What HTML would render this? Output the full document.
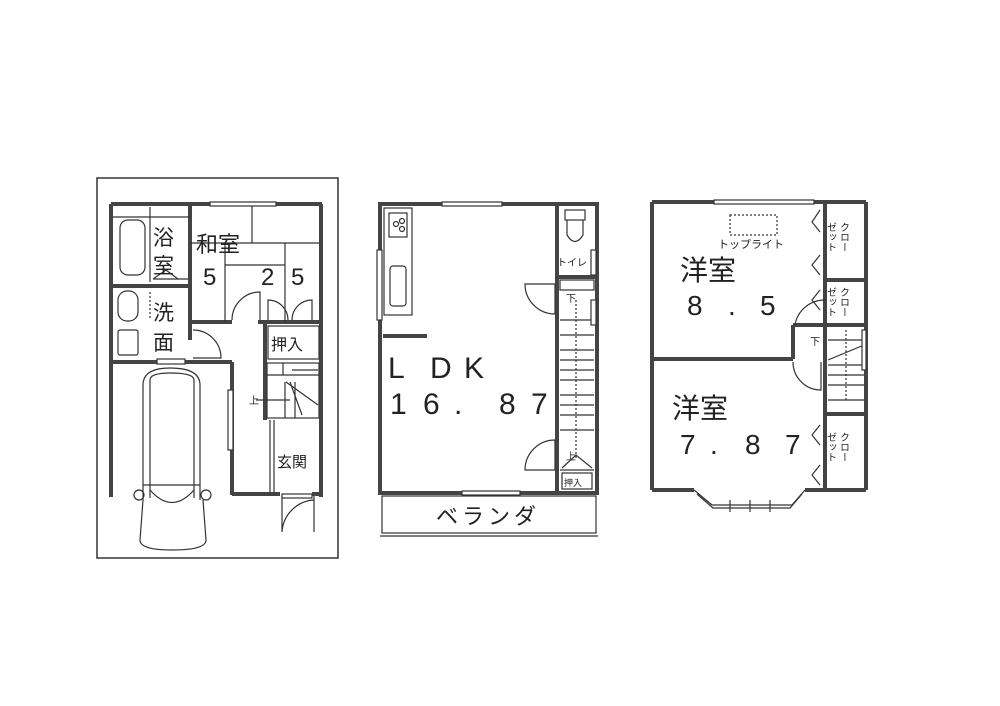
<!DOCTYPE html>
<html><head><meta charset="utf-8"><style>
html,body{margin:0;padding:0;background:#fff;}
svg{display:block;}
text{font-family:"Liberation Sans","Noto Sans CJK JP",sans-serif;fill:#222;}
</style></head><body>
<svg width="1000" height="706" viewBox="0 0 1000 706" xmlns="http://www.w3.org/2000/svg">
<rect width="1000" height="706" fill="#fff"/>
<g stroke="#333" fill="none">
<!-- ===== Plan 1 ===== -->
<rect x="97" y="178" width="241" height="380" stroke-width="1.5"/>
<g stroke-width="4" stroke="#444">
<line x1="111" y1="204" x2="322" y2="204"/>
<line x1="111" y1="204" x2="111" y2="497"/>
<line x1="321" y1="204" x2="321" y2="497"/>
<line x1="111" y1="362" x2="232" y2="362"/>
<line x1="232" y1="362" x2="232" y2="495"/>
<line x1="232" y1="494" x2="280" y2="494"/>
<line x1="312" y1="494" x2="321" y2="494"/>
<line x1="190" y1="204" x2="190" y2="340"/>
<line x1="111" y1="286" x2="190" y2="286"/>
<line x1="190" y1="322" x2="232" y2="322"/>
<line x1="258" y1="322" x2="321" y2="322"/>
<line x1="265" y1="322" x2="265" y2="420"/>
</g>
<g stroke-width="1.2">
<rect x="210" y="202" width="66" height="4" fill="#fff"/>
<line x1="113" y1="217" x2="190" y2="217"/>
<line x1="150" y1="207" x2="150" y2="282"/>
<rect x="120" y="220" width="25" height="55" rx="8"/>
<line x1="153" y1="279" x2="188" y2="279"/>
<line x1="153" y1="279" x2="166" y2="270"/><line x1="166" y1="270" x2="178" y2="279"/>
<rect x="118" y="291" width="20" height="30" rx="9"/>
<rect x="118" y="330" width="20" height="25" rx="2"/>
<line x1="150" y1="292" x2="150" y2="320" stroke-dasharray="2 2"/>
<rect x="157" y="359" width="28" height="5" fill="#fff"/>
<line x1="252" y1="206" x2="252" y2="243"/>
<line x1="190" y1="243" x2="320" y2="243"/>
<line x1="285" y1="243" x2="285" y2="322"/>
<line x1="225" y1="265" x2="285" y2="265"/>
<line x1="225" y1="243" x2="225" y2="322"/>
<path d="M232 320 A28 28 0 0 1 260 292 L260 320"/>
<path d="M268 320 L268 300 A20 20 0 0 1 288 320"/>
<path d="M292 320 A20 20 0 0 1 312 300 L312 320"/>
<path d="M193 330 A28 28 0 0 1 221 358 L193 358"/>
<rect x="268" y="326" width="51" height="33"/>
<rect x="267" y="363" width="52" height="55"/>
<line x1="267" y1="375" x2="319" y2="375"/>
<line x1="283" y1="363" x2="283" y2="375"/>
<line x1="285" y1="382" x2="285" y2="418"/>
<line x1="295" y1="382" x2="295" y2="418"/>
<line x1="286" y1="382" x2="318" y2="405"/>
<line x1="290" y1="382" x2="302" y2="415"/>
<line x1="292" y1="370" x2="318" y2="370"/>
<line x1="256" y1="400" x2="290" y2="400"/>
<line x1="270" y1="420" x2="270" y2="493"/>
<line x1="274" y1="420" x2="274" y2="493"/>
<rect x="228" y="390" width="5" height="60" fill="#fff"/>
<path d="M282 496 L282 532 A34 34 0 0 1 314 500" />
<line x1="314" y1="496" x2="314" y2="532"/>
<rect x="282" y="494" width="30" height="4" fill="#fff"/>
<path d="M143 500 L143 385 Q143 368 170 368 Q200 368 200 385 L200 500"/>
<path d="M150 498 L150 380 Q150 373 170 373 Q194 373 194 380 L194 498"/>
<line x1="143" y1="485" x2="200" y2="485"/>
<path d="M150 490 Q172 515 194 490"/>
<path d="M143 500 L140 540 Q140 550 172 550 Q206 550 206 540 L203 500"/>
<circle cx="139" cy="495" r="5"/><circle cx="206" cy="495" r="5"/>
</g>
<!-- ===== Plan 2 ===== -->
<g stroke-width="4" stroke="#444">
<rect x="380" y="204" width="217" height="289"/>
<line x1="557" y1="204" x2="557" y2="493"/>
<line x1="557" y1="277" x2="597" y2="277"/>
<line x1="383" y1="336" x2="427" y2="336"/>
</g>
<g stroke-width="1.2">
<rect x="442" y="202" width="60" height="4" fill="#fff"/>
<rect x="462" y="491" width="58" height="4" fill="#fff"/>
<rect x="382" y="496" width="214" height="37"/>
<line x1="380" y1="536" x2="598" y2="536"/>
<rect x="384" y="208" width="28" height="107"/>
<rect x="389" y="213" width="18" height="24"/>
<circle cx="396" cy="224" r="2.5"/><circle cx="402" cy="221" r="2.5"/><circle cx="402" cy="229" r="2.5"/>
<rect x="390" y="266" width="16" height="40" rx="3"/>
<rect x="377" y="250" width="5" height="70" fill="#fff"/>
<rect x="565" y="210" width="20" height="10"/>
<path d="M567 220 L567 235 Q575 248 583 235 L583 220"/>
<rect x="591" y="250" width="5" height="25" fill="#fff"/>
<path d="M555 284 L555 314 A30 30 0 0 1 525 284 Z"/>
<path d="M555 440 L555 470 L525 470 A30 30 0 0 1 555 440"/>
<rect x="560" y="280" width="34" height="10"/>
<line x1="560" y1="320" x2="594" y2="320"/>
<line x1="560" y1="335" x2="594" y2="335"/><line x1="560" y1="350" x2="594" y2="350"/>
<line x1="560" y1="360" x2="594" y2="360"/><line x1="560" y1="370" x2="594" y2="370"/>
<line x1="560" y1="380" x2="594" y2="380"/><line x1="560" y1="395" x2="594" y2="395"/>
<line x1="560" y1="405" x2="594" y2="405"/><line x1="560" y1="415" x2="594" y2="415"/>
<line x1="560" y1="430" x2="594" y2="430"/><line x1="560" y1="470" x2="594" y2="470"/>
<line x1="576" y1="300" x2="576" y2="460" stroke-dasharray="2 2"/>
<path d="M562 468 L576 455 L592 468"/>
<rect x="562" y="473" width="30" height="16"/>
<rect x="591" y="300" width="5" height="25" fill="#fff"/>
</g>
<!-- ===== Plan 3 ===== -->
<g stroke-width="4" stroke="#444">
<line x1="652" y1="202" x2="866" y2="202"/>
<line x1="652" y1="202" x2="652" y2="490"/>
<line x1="866" y1="202" x2="866" y2="490"/>
<line x1="652" y1="490" x2="694" y2="490"/>
<line x1="805" y1="490" x2="866" y2="490"/>
<line x1="652" y1="359" x2="793" y2="359"/>
<line x1="793" y1="325" x2="793" y2="359"/>
<line x1="793" y1="325" x2="866" y2="325"/>
<line x1="825" y1="202" x2="825" y2="490"/>
<line x1="825" y1="280" x2="866" y2="280"/>
<line x1="825" y1="414" x2="866" y2="414"/>
</g>
<g stroke-width="1.2">
<rect x="714" y="200" width="100" height="4" fill="#fff"/>
<rect x="730" y="215" width="47" height="20" stroke-dasharray="2 2"/>
<path d="M694 490 L712 505 L792 505 L805 490"/>
<path d="M697 494 L713 508 L790 508 L802 494"/>
<line x1="730" y1="500" x2="730" y2="512"/><line x1="750" y1="500" x2="750" y2="512"/><line x1="770" y1="500" x2="770" y2="512"/>
<path d="M820 210 L812 222 L820 232 M820 255 L812 265 L820 275 M820 290 L812 300 L820 310 M820 425 L812 435 L820 445 M820 465 L812 475 L820 485"/>
<path d="M825 300 A30 30 0 0 0 795 325"/>
<path d="M793 362 A28 28 0 0 0 821 390 L821 362"/>
<line x1="828" y1="340" x2="864" y2="340"/>
<line x1="828" y1="365" x2="864" y2="365"/><line x1="828" y1="375" x2="864" y2="375"/>
<line x1="828" y1="385" x2="864" y2="385"/><line x1="828" y1="400" x2="864" y2="400"/>
<line x1="828" y1="360" x2="864" y2="345"/>
<line x1="846" y1="330" x2="846" y2="400" stroke-dasharray="2 2"/>
<rect x="862" y="330" width="4" height="40" fill="#fff"/>
</g>
</g>
<!-- Labels -->
<text x="153" y="245" font-size="21">浴</text>
<text x="153" y="273" font-size="21">室</text>
<text x="153" y="320" font-size="21">洗</text>
<text x="153" y="350" font-size="21">面</text>
<text x="196" y="252" font-size="22">和室</text>
<text x="203" y="285" font-size="24">5</text>
<text x="261" y="285" font-size="24">2</text>
<text x="291" y="285" font-size="24">5</text>
<text x="271" y="350" font-size="16">押入</text>
<text x="249" y="404" font-size="10">上</text>
<text x="277" y="467" font-size="15">玄関</text>
<g font-size="30">
<text x="388" y="378">L</text><text x="430" y="378">D</text><text x="464" y="378">K</text>
<text x="390" y="414">1</text><text x="423" y="414">6</text><text x="454" y="414">.</text>
<text x="499" y="414">8</text><text x="531" y="414">7</text>
</g>
<text x="557" y="266" font-size="10">トイレ</text>
<text x="566" y="302" font-size="10">下</text>
<text x="566" y="460" font-size="10">上</text>
<text x="564" y="486" font-size="9">押入</text>
<text x="436" y="524" font-size="22" letter-spacing="4">ベランダ</text>
<text x="718" y="248" font-size="11">トップライト</text>
<text x="680" y="280" font-size="28">洋室</text>
<g font-size="28">
<text x="687" y="315">8</text><text x="728" y="315">.</text><text x="760" y="315">5</text>
<text x="680" y="454">7</text><text x="710" y="454">.</text><text x="745" y="454">8</text><text x="785" y="454">7</text>
</g>
<text x="672" y="418" font-size="28">洋室</text>
<text x="810" y="345" font-size="10">下</text>
<g font-size="10">
<text x="830" y="222" writing-mode="tb">ゼット</text><text x="843" y="222" writing-mode="tb">クロー</text>
<text x="830" y="287" writing-mode="tb">ゼット</text><text x="843" y="287" writing-mode="tb">クロー</text>
<text x="830" y="432" writing-mode="tb">ゼット</text><text x="843" y="432" writing-mode="tb">クロー</text>
</g>
</svg>
</body></html>
